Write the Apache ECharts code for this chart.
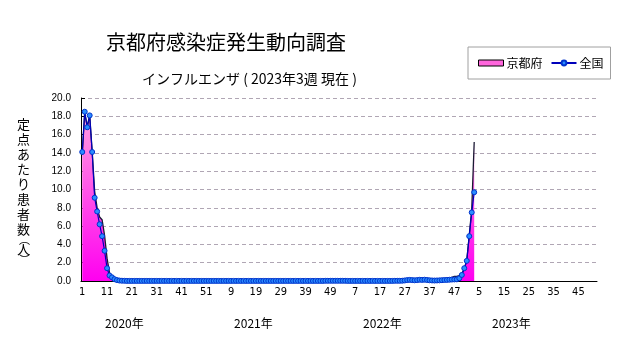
<!DOCTYPE html>
<html>
<head>
<meta charset="utf-8">
<script src="https://cdn.jsdelivr.net/npm/echarts@6/dist/echarts.min.js"></script>
<style>
html,body{margin:0;padding:0;background:#fff;}
#chart{width:631px;height:347px;}
</style>
</head>
<body>
<div id="chart"></div>
<script>
// ---- tick labels / categories ----
const years = [2020, 2021, 2022, 2023];
const weekNumbers = [1,2,3,4,5,6,7,8,9,10,11,12,13,14,15,16,17,18,19,20,21,22,23,24,25,26,
  27,28,29,30,31,32,33,34,35,36,37,38,39,40,41,42,43,44,45,46,47,48,49,50,51,52];
const yTicks = [0,2,4,6,8,10,12,14,16,18,20];

// ---- series values (per year) ----
const kyoto2020 = [13.8,18.4,16.9,18.1,14.2,9.8,8.0,7.0,6.7,5.0,2.5,0.9,0.3,0.1,0.05,0,
  0,0,0,0,0,0,0,0,0,0,0,0,0,0,0,0,0,0,0,0,0,0,0,0,0,0,0,0,0,0,0,0,0,0,0,0];
const kyoto2021 = [0,0,0,0,0,0,0,0,0,0,0,0,0,0,0,0,0,0,0,0,0,0,0,0,0,0,
  0,0,0,0,0,0,0,0,0,0,0,0,0,0,0,0,0,0,0,0,0,0,0,0,0,0];
const kyoto2022 = [0,0,0,0,0,0,0,0,0,0,0,0,0,0,0,0,0,0,0,0,0,0,0,0,0,0,
  0,0,0,0,0,0,0,0,0,0,0,0,0,0,0,0,0,0,0.1,0.4,0.5,0.5,0.6,0.8,1.3,2.3];
const kyoto2023 = [5.0,7.8,15.2];

const national2020 = [14.1,18.5,16.8,18.1,14.1,9.1,7.6,6.2,4.9,3.3,1.4,0.6,0.4,0.2,0.1,0.05,
  0.03,0.02,0.01,0.01,0.01,0.01,0.01,0.01,0.01,0.01,0.01,0.01,0.01,0.01,0.01,0.01,0.01,0.01,
  0.01,0.01,0.01,0.01,0.01,0.01,0.01,0.01,0.01,0.01,0.01,0.01,0.01,0.01,0.01,0.01,0.01,0.01];
const national2021 = [0.01,0.01,0.01,0.01,0.01,0.01,0.01,0.01,0.01,0.01,0.01,0.01,0.01,0.01,0.01,0.01,
  0.01,0.01,0.01,0.01,0.01,0.01,0.01,0.01,0.01,0.01,0.01,0.01,0.01,0.01,0.01,0.01,0.01,0.01,
  0.01,0.01,0.01,0.01,0.01,0.01,0.01,0.01,0.01,0.01,0.01,0.01,0.02,0.02,0.02,0.02,0.02,0.02];
const national2022 = [0.02,0.02,0.02,0.01,0.01,0.01,0.01,0.01,0.01,0.01,0.01,0.01,0.01,0.01,0.01,0.01,
  0.01,0.01,0.01,0.01,0.01,0.01,0.02,0.02,0.02,0.03,0.06,0.1,0.12,0.1,0.08,0.1,0.13,0.12,
  0.14,0.11,0.08,0.06,0.05,0.06,0.07,0.09,0.11,0.12,0.14,0.16,0.17,0.18,0.3,0.66,1.4,2.2];
const national2023 = [4.9,7.5,9.7];

const kyotoValues = [].concat(kyoto2020, kyoto2021, kyoto2022, kyoto2023);
const nationalValues = [].concat(national2020, national2021, national2022, national2023);

const categories = [];
years.forEach(function (y) {
  weekNumbers.forEach(function (w) { categories.push(y + '-' + w); });
});

const titleText = '京都府感染症発生動向調査';
const subtitleText = 'インフルエンザ ( 2023年3週 現在 )';
const yAxisNameChars = ['定','点','あ','た','り','患','者','数'];
const yAxisUnit = '人';

const chart = echarts.init(document.getElementById('chart'), null, {renderer: 'canvas'});
const cjk = '"Noto Sans CJK JP", "Noto Sans", sans-serif';

chart.setOption({
  backgroundColor: '#ffffff',
  animation: false,
  textStyle: {fontFamily: cjk, color: '#000'},
  title: [
    {text: titleText, left: 101, top: 27,
     textStyle: {fontSize: 20, fontWeight: 'normal', color: '#000', fontFamily: cjk}},
    {text: subtitleText, left: 137, top: 67,
     textStyle: {fontSize: 14, fontWeight: 'normal', color: '#000', fontFamily: cjk}}
  ],
  legend: {
    left: 468, top: 47,
    padding: [10, 7, 10, 10],
    borderColor: '#a0a0a0', borderWidth: 1,
    itemWidth: 25, itemHeight: 6, itemGap: 8,
    textStyle: {fontSize: 12, color: '#000', fontFamily: cjk, padding: [0, 0, 0, -2]},
    data: [
      {name: '京都府', icon: 'rect',
       itemStyle: {color: '#ff66dd', borderColor: '#000', borderWidth: 1}},
      {name: '全国'}
    ]
  },
  grid: {left: 81, right: 34, top: 98, bottom: 66, containLabel: false},
  xAxis: [
    {
      type: 'category', data: categories, boundaryGap: true,
      axisLine: {lineStyle: {color: '#000', width: 1}},
      axisTick: {inside: true, length: 4, interval: 4, alignWithLabel: true,
                 lineStyle: {color: '#000'}},
      axisLabel: {interval: 9, margin: 6, fontSize: 11, color: '#000',
                  fontFamily: '"Liberation Sans Narrow", "DejaVu Sans Condensed", sans-serif',
                  formatter: function (v) { return v.split('-')[1]; }},
      splitLine: {show: false}
    },
    {
      type: 'category', data: categories, boundaryGap: true, position: 'bottom', offset: 28,
      axisLine: {show: false}, axisTick: {show: false}, splitLine: {show: false},
      axisLabel: {
        interval: function (idx) { return idx % weekNumbers.length === 17; },
        margin: 8, fontSize: 12, color: '#000', fontFamily: cjk,
        formatter: function (v) { return v.split('-')[0] + '年'; }
      }
    }
  ],
  yAxis: {
    type: 'value', min: yTicks[0], max: yTicks[yTicks.length - 1], interval: 2,
    name: yAxisNameChars.join('\n') + '\n{p|︵}\n' + yAxisUnit + '\n{p|︶}',
    nameLocation: 'middle', nameRotate: 0, nameGap: 51,
    nameTextStyle: {fontSize: 13, lineHeight: 15, color: '#000', fontFamily: cjk,
                    rich: {p: {fontSize: 11, lineHeight: 5, fontFamily: cjk, color: '#000'}}},
    axisLine: {show: true, lineStyle: {color: '#000', width: 1}},
    axisTick: {show: true, inside: true, length: 4, lineStyle: {color: '#000'}},
    axisLabel: {margin: 10, fontSize: 10, color: '#000',
                fontFamily: '"Liberation Sans", "DejaVu Sans", sans-serif',
                formatter: function (v) { return v.toFixed(1); }},
    splitLine: {show: true, lineStyle: {color: '#b0a6b4', type: [4, 3], width: 1}}
  },
  series: [
    {
      name: '京都府', type: 'line', data: kyotoValues, xAxisIndex: 0,
      symbol: 'none', showSymbol: false, z: 2,
      itemStyle: {color: '#ff66dd'},
      lineStyle: {color: '#1a1a33', width: 1.3},
      areaStyle: {
        opacity: 1,
        color: new echarts.graphic.LinearGradient(0, 0, 0, 1, [
          {offset: 0, color: '#ff9ee0'},
          {offset: 1, color: '#ff00f0'}
        ])
      }
    },
    {
      name: '全国', type: 'line', data: nationalValues, xAxisIndex: 0,
      symbol: 'circle', symbolSize: 5, showSymbol: true, showAllSymbol: true, z: 3,
      itemStyle: {color: '#2a8cff', borderColor: '#0033cc', borderWidth: 1},
      lineStyle: {color: '#0000bb', width: 1.2}
    }
  ]
});
</script>
</body>
</html>
